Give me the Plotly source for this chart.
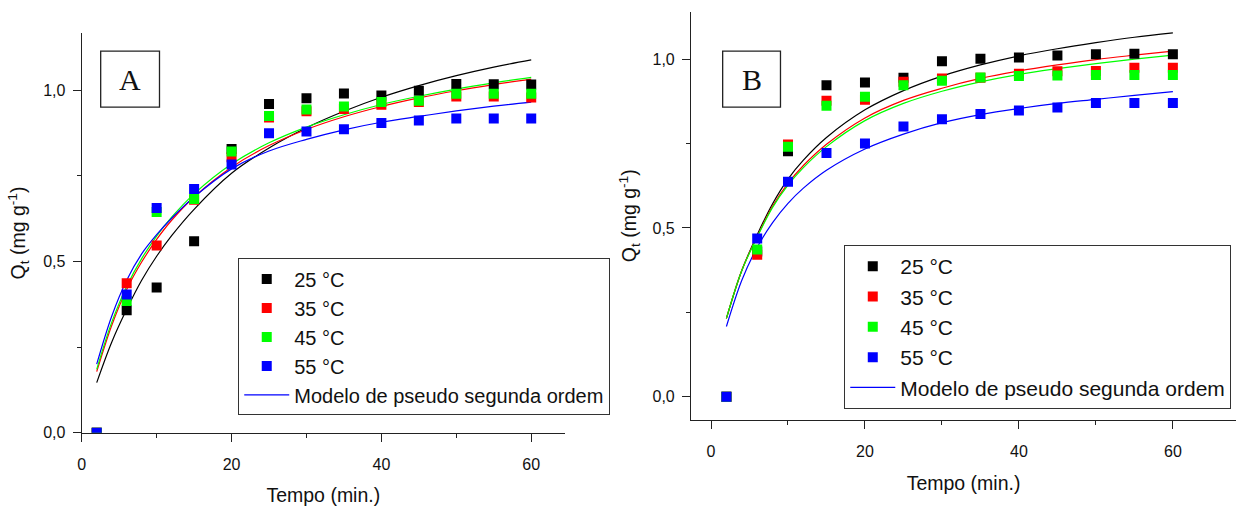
import plotly.graph_objects as go

# ---------------- data ----------------
tempo = [2, 6, 10, 15, 20, 25, 30, 35, 40, 45, 50, 55, 60]
labels = ["25 °C", "35 °C", "45 °C", "55 °C"]
colors = ["#000000", "#ff0000", "#00ff00", "#0000ff"]

# Panel A experimental Qt
a_25 = [0.0, 0.357, 0.424, 0.559, 0.828, 0.959, 0.976, 0.990, 0.984, 0.998, 1.018, 1.017, 1.016]
a_35 = [0.0, 0.436, 0.546, 0.680, 0.804, 0.920, 0.938, 0.945, 0.957, 0.965, 0.981, 0.981, 0.978]
a_45 = [0.0, 0.384, 0.644, 0.682, 0.821, 0.924, 0.943, 0.952, 0.965, 0.969, 0.989, 0.989, 0.989]
a_55 = [0.0, 0.403, 0.656, 0.711, 0.783, 0.874, 0.879, 0.886, 0.904, 0.911, 0.917, 0.917, 0.917]

# Panel B experimental Qt
b_25 = [0.0, 0.430, 0.727, 0.923, 0.931, 0.945, 0.994, 1.001, 1.005, 1.011, 1.015, 1.016, 1.015]
b_35 = [0.0, 0.421, 0.747, 0.877, 0.880, 0.933, 0.943, 0.945, 0.957, 0.964, 0.965, 0.975, 0.975]
b_45 = [0.0, 0.436, 0.741, 0.862, 0.889, 0.923, 0.936, 0.946, 0.950, 0.952, 0.953, 0.953, 0.953]
b_55 = [0.0, 0.469, 0.637, 0.722, 0.750, 0.801, 0.822, 0.838, 0.848, 0.857, 0.870, 0.870, 0.870]

# Pseudo-second-order model curves
tempo_fit = [2, 4, 6, 8, 10, 12, 15, 20, 25, 30, 35, 40, 45, 50, 55, 60]
fa_25 = [0.146, 0.264, 0.360, 0.445, 0.515, 0.575, 0.652, 0.757, 0.831, 0.890, 0.938, 0.979, 1.013, 1.042, 1.067, 1.088]
fa_35 = [0.178, 0.313, 0.418, 0.498, 0.564, 0.620, 0.688, 0.775, 0.838, 0.885, 0.922, 0.952, 0.977, 0.998, 1.016, 1.032]
fa_45 = [0.185, 0.322, 0.427, 0.508, 0.574, 0.629, 0.697, 0.784, 0.846, 0.892, 0.928, 0.958, 0.982, 1.003, 1.021, 1.037]
fa_55 = [0.200, 0.340, 0.445, 0.522, 0.578, 0.626, 0.688, 0.770, 0.822, 0.856, 0.884, 0.906, 0.923, 0.939, 0.953, 0.965]

fb_25 = [0.232, 0.374, 0.480, 0.572, 0.645, 0.701, 0.768, 0.850, 0.907, 0.950, 0.983, 1.010, 1.031, 1.049, 1.065, 1.078]
fb_35 = [0.232, 0.375, 0.475, 0.565, 0.632, 0.685, 0.748, 0.826, 0.878, 0.914, 0.943, 0.965, 0.983, 0.999, 1.012, 1.024]
fb_45 = [0.232, 0.374, 0.473, 0.561, 0.627, 0.679, 0.741, 0.818, 0.869, 0.905, 0.933, 0.955, 0.972, 0.987, 1.000, 1.012]
fb_55 = [0.208, 0.345, 0.443, 0.516, 0.573, 0.618, 0.671, 0.734, 0.778, 0.812, 0.836, 0.854, 0.869, 0.881, 0.893, 0.904]

model_name = "Modelo de pseudo segunda ordem"
x_ticks = [0, 20, 40, 60]
y_ticks = [0.0, 0.5, 1.0]

# ---------------- figure ----------------
fig = go.Figure()

panels = [
    ("x", "y", "legend", [a_25, a_35, a_45, a_55], [fa_25, fa_35, fa_45, fa_55]),
    ("x2", "y2", "legend2", [b_25, b_35, b_45, b_55], [fb_25, fb_35, fb_45, fb_55]),
]

for xa, ya, leg, pts, fits in panels:
    for i, f in enumerate(fits):
        fig.add_trace(go.Scatter(
            x=tempo_fit, y=f, mode="lines", line=dict(color=colors[i], width=1.2, shape="spline"),
            name=model_name if i == 3 else model_name + " " + labels[i],
            showlegend=(i == 3), legend=leg, legendrank=1000 + i,
            xaxis=xa, yaxis=ya, hoverinfo="skip"))
    for i, p in enumerate(pts):
        fig.add_trace(go.Scatter(
            x=tempo, y=p, mode="markers",
            marker=dict(symbol="square", size=10, color=colors[i], line=dict(width=0)),
            name=labels[i], legend=leg, legendrank=i + 1,
            xaxis=xa, yaxis=ya))

FONT = "Liberation Sans, Arial"
axis_common = dict(
    showline=True, linecolor="#222222", linewidth=1.3, mirror=False,
    ticks="outside", ticklen=8, tickwidth=1.3, tickcolor="#222222",
    showgrid=False, zeroline=False,
    tickfont=dict(family=FONT, size=16, color="#111111"),
    title_font=dict(family=FONT, size=19.5, color="#111111"),
)
minor = dict(ticks="outside", ticklen=4, tickwidth=1.3, tickcolor="#222222", showgrid=False)

ytitle = "Q<sub>t</sub> (mg g<sup>-1</sup>)"

legend_common = dict(xanchor="left", yanchor="middle", bgcolor="white",
                     bordercolor="#333333", borderwidth=1,
                     itemwidth=45, tracegroupgap=0, traceorder="normal")

fig.update_layout(
    width=1236, height=506,
    margin=dict(l=0, r=0, t=0, b=0),
    paper_bgcolor="white", plot_bgcolor="white",
    separators=",.",
    font=dict(family=FONT, color="#111111"),
    xaxis=dict(axis_common, domain=[0.0631, 0.4553], range=[0, 64.5], tickvals=x_ticks,
               minor=dict(minor, tickvals=[10, 30, 50]), anchor="y", ticklabelstandoff=9,
               title=dict(text="Tempo (min.)", standoff=17)),
    yaxis=dict(axis_common, domain=[0.1294, 0.9328], range=[0, 1.1654], tickvals=y_ticks,
               tickformat=".1f", minor=dict(minor, tickvals=[0.25, 0.75]), anchor="x",
               ticklabelstandoff=4, title=dict(text=ytitle, standoff=12)),
    xaxis2=dict(axis_common, domain=[0.5577, 1.0], range=[-2.59, 68.2], tickvals=x_ticks,
                minor=dict(minor, tickvals=[10, 30, 50]), anchor="y2", ticklabelstandoff=9,
                title=dict(text="Tempo (min.)", standoff=17)),
    yaxis2=dict(axis_common, domain=[0.1555, 0.9763], range=[-0.068, 1.1405], tickvals=y_ticks,
                tickformat=".1f", minor=dict(minor, tickvals=[0.25, 0.75]), anchor="x2",
                ticklabelstandoff=4, title=dict(text=ytitle, standoff=10)),
    legend=dict(legend_common, x=235 / 1236, y=1 - 343 / 506,
                font=dict(family=FONT, size=20, color="#111111")),
    legend2=dict(legend_common, x=843 / 1236, y=1 - 333 / 506,
                 font=dict(family=FONT, size=21, color="#111111")),
    showlegend=True,
)

# panel letter boxes
for x0, x1, letter in [(97, 156, "A"), (721, 779, "B")]:
    fig.add_shape(type="rect", xref="paper", yref="paper",
                  x0=x0 / 1236, x1=x1 / 1236, y0=1 - 109 / 506, y1=1 - 52 / 506,
                  line=dict(color="#222222", width=1.3), fillcolor="white", layer="below")
    fig.add_annotation(text=letter, xref="paper", yref="paper",
                       x=(x0 + x1) / 2 / 1236, y=1 - 81 / 506, showarrow=False,
                       xanchor="center", yanchor="middle",
                       font=dict(family="Liberation Serif, Times New Roman", size=30, color="#111111"))

fig.write_html("out.html")
